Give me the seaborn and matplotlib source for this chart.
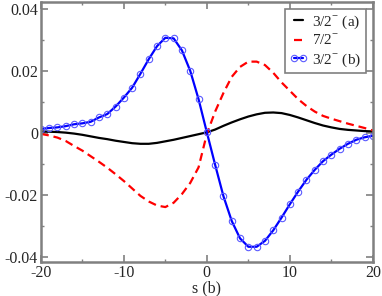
import numpy as np
import pandas as pd
import matplotlib
matplotlib.use("Agg")
import matplotlib.pyplot as plt
import seaborn as sns

s = list(range(-20, 21))

black_a = [0.0004, 0.0003, 0.0002, 0.0000, -0.0003, -0.0007, -0.0012, -0.0017, -0.0021, -0.0026,
           -0.0030, -0.0034, -0.0036, -0.0036, -0.0033, -0.0028, -0.0023, -0.0017, -0.0011, -0.0005,
           0.0001, 0.0010, 0.0022, 0.0033, 0.0043, 0.0052, 0.0059, 0.0064, 0.0065, 0.0063,
           0.0057, 0.0049, 0.0040, 0.0031, 0.0023, 0.0017, 0.0012, 0.0009, 0.0007, 0.0005, 0.0004]

red_72 = [-0.0004, -0.0009, -0.0016, -0.0027, -0.0043, -0.0058, -0.0076, -0.0094, -0.0113, -0.0134,
          -0.0156, -0.0180, -0.0204, -0.0222, -0.0235, -0.0240, -0.0226, -0.0198, -0.0162, -0.0112,
          -0.0004, 0.0068, 0.0128, 0.0180, 0.0212, 0.0229, 0.0229, 0.0218, 0.0193, 0.0162,
          0.0135, 0.0108, 0.0086, 0.0068, 0.0054, 0.0045, 0.0037, 0.0029, 0.0022, 0.0015, 0.0007]

blue_b = [0.0012, 0.0015, 0.0017, 0.0021, 0.0027, 0.0030, 0.0035, 0.0049, 0.0060, 0.0084,
          0.0113, 0.0145, 0.0190, 0.0237, 0.0279, 0.0306, 0.0304, 0.0265, 0.0199, 0.0108,
          0.0001, -0.0104, -0.0205, -0.0285, -0.0341, -0.0368, -0.0368, -0.0349, -0.0315, -0.0274,
          -0.0231, -0.0190, -0.0152, -0.0120, -0.0092, -0.0071, -0.0052, -0.0036, -0.0023, -0.0015, -0.0010]

labels = [r"3/2$^{-}$ (a)", r"7/2$^{-}$", r"3/2$^{-}$ (b)"]

sns.set_style("ticks")
plt.rcParams["font.family"] = ["Liberation Serif", "DejaVu Serif"]
plt.rcParams["mathtext.fontset"] = "custom"
plt.rcParams["mathtext.rm"] = "Liberation Serif"

df = pd.DataFrame({"s": s, "a": black_a, "r": red_72, "b": blue_b})

fig = plt.figure(figsize=(3.82, 2.96), dpi=100)
ax = fig.add_axes([0.107, 0.115, 0.869, 0.879])

sns.lineplot(data=df, x="s", y="a", ax=ax, color="black", lw=1.6, label=labels[0])
sns.lineplot(data=df, x="s", y="r", ax=ax, color="#ff0000", lw=1.6, label=labels[1],
             dashes=False, linestyle=(0, (3.6, 2.2)))
sns.lineplot(data=df, x="s", y="b", ax=ax, color="#0000ff", lw=1.6, label=labels[2],
             marker="o", markersize=4.6, markerfacecolor="none", markeredgecolor="#5a5aff",
             markeredgewidth=0.8)

ax.set_xlim(-20, 20)
ax.set_ylim(-0.0417, 0.0422)
ax.set_xticks([-20, -10, 0, 10, 20])
ax.set_xticklabels(["-20", "-10", "0", "10", "20"])
ax.set_yticks([-0.04, -0.02, 0, 0.02, 0.04])
ax.set_yticklabels(["-0.04", "-0.02", "0", "0.02", "0.04"])
ax.set_xticks(np.arange(-20, 21, 5), minor=True)
ax.set_yticks(np.arange(-0.04, 0.041, 0.01), minor=True)
ax.tick_params(which="both", direction="in", top=True, right=True, color="#808080",
               labelsize=11.5, pad=2)
ax.tick_params(which="major", length=5, width=1.2)
ax.tick_params(which="minor", length=2.5, width=1.0)
for sp in ax.spines.values():
    sp.set_color("#808080")
    sp.set_linewidth(1.8)
ax.set_xlabel("s (b)", fontsize=11.5, labelpad=0)
ax.set_ylabel("")

leg = ax.legend(loc="upper right", fontsize=11, frameon=True, fancybox=False,
                numpoints=2, handlelength=1.2, handletextpad=0.3, borderpad=0.3,
                labelspacing=0.2, borderaxespad=0.45, framealpha=1)
leg.get_frame().set_edgecolor("#808080")
leg.get_frame().set_linewidth(1.2)

fig.savefig("out.png", dpi=100)
